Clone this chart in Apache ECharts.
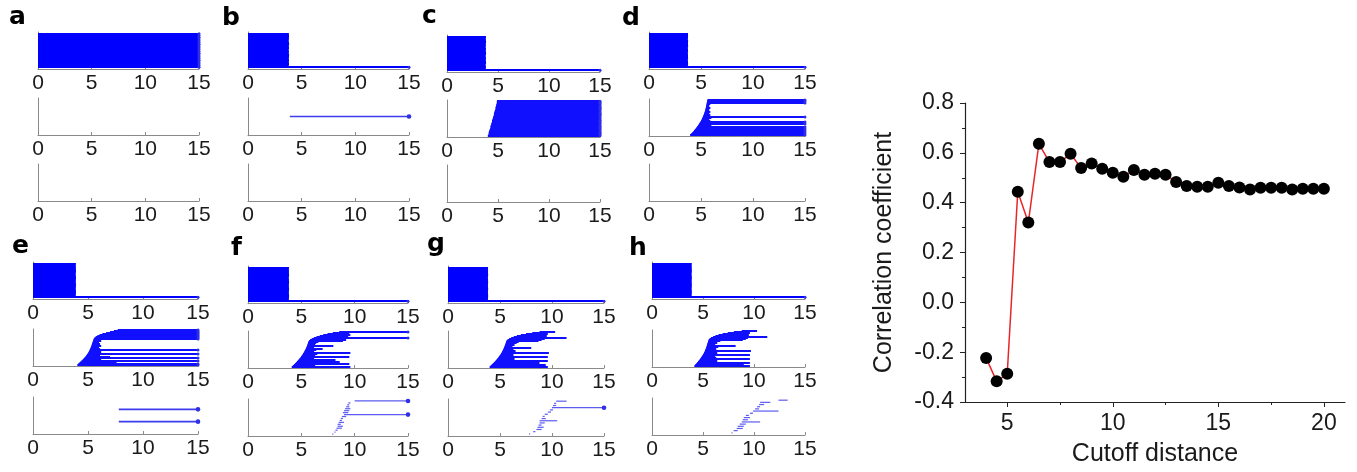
<!DOCTYPE html>
<html>
<head>
<meta charset="utf-8">
<script src="https://cdn.jsdelivr.net/npm/echarts@6/dist/echarts.min.js"></script>
<style>html,body{margin:0;padding:0;background:#fff}#chart{width:1357px;height:472px}</style>
</head>
<body>
<div id="chart"></div>
<script>
// ---------------- DATA ----------------
const barcodeTicks = [0, 5, 10, 15];

// Betti-0 (top rows): death of each bar, all born at 0; index 0 = bottom bar
const b0DeathA = [15,15,15,15,15,15,15,15,15,15,15,15,15,15,15,15,15,15,15,15];
const b0DeathB = [15,3.80,3.82,3.81,3.82,3.80,3.82,3.83,3.81,3.82,3.80,3.82,3.81,3.83,3.82,3.80,3.81,3.82,3.82,3.81];
const b0DeathC = [15,3.81,3.82,3.80,3.83,3.82,3.81,3.82,3.80,3.82,3.83,3.81,3.82,3.80,3.82,3.81,3.83,3.82,3.80,3.82];
const b0DeathD = [15,3.74,3.76,3.75,3.74,3.76,3.75,3.75,3.74,3.76,3.75,3.74,3.76,3.75,3.75,3.76,3.74,3.75,3.76,3.75];
const b0DeathE = [15,3.89,3.90,3.91,3.90,3.89,3.90,3.91,3.90,3.89,3.90,3.91,3.90,3.89,3.90,3.91,3.90,3.90,3.89,3.90];
const b0DeathF = [15,3.83,3.84,3.85,3.84,3.83,3.84,3.85,3.84,3.83,3.84,3.85,3.84,3.83,3.84,3.85,3.84,3.84,3.83,3.84];
const b0DeathG = [15,3.84,3.85,3.86,3.85,3.84,3.85,3.86,3.85,3.84,3.85,3.86,3.85,3.84,3.85,3.86,3.85,3.85,3.84,3.85];
const b0DeathH = [15,3.89,3.90,3.91,3.90,3.89,3.90,3.91,3.90,3.89,3.90,3.91,3.90,3.89,3.90,3.91,3.90,3.90,3.89,3.90];

// Betti-1 (middle rows): births and deaths, index 0 = bottom bar
const b1BirthA = [], b1DeathA = [];
const b1BirthB = [3.9], b1DeathB = [15];
const b1BirthC = [4.00,4.04,4.08,4.11,4.15,4.18,4.22,4.25,4.28,4.32,4.35,4.38,4.41,4.45,4.48,4.51,4.54,4.57,4.60,4.63,4.66,4.69,4.72,4.75,4.78,4.81,4.84,4.86,4.88,4.90];
const b1DeathC = [15,15,15,15,15,15,15,15,15,15,15,15,15,15,15,15,15,15,15,15,15,15,15,15,15,15,15,15,15,15];
const b1BirthD = [3.95,4.05,4.15,4.25,4.32,4.40,4.48,4.55,4.62,4.70,4.76,4.82,4.88,4.94,5.00,5.05,5.10,5.14,5.18,5.22,5.26,5.30,5.33,5.36,5.39,5.42,5.44,5.46,5.48,5.50,5.52,5.54,5.56,5.58,5.60,5.62];
const b1DeathD = [15,5.9,15,5.8,15,5.9,15,5.7,15,5.8,6.0,15,5.8,15,5.9,5.7,5.8,6.0,15,5.7,5.9,5.8,5.6,5.9,5.7,5.8,5.6,5.9,5.7,5.8,5.7,5.9,15,5.8,15,15];
const b1BirthE = [4.03,4.12,4.22,4.32,4.42,4.51,4.60,4.68,4.76,4.83,4.90,4.96,5.02,5.07,5.12,5.16,5.20,5.24,5.28,5.31,5.34,5.37,5.40,5.43,5.46,5.49,5.53,5.60,5.70,5.85,6.05,6.30,6.65,7.00,7.35,7.70];
const b1DeathE = [15,15,7.6,6.0,15,6.2,5.9,15,7.0,6.1,5.9,15,6.0,6.2,5.9,15,6.1,5.9,6.0,6.2,5.9,6.1,6.0,5.9,6.2,6.1,15,15,15,15,15,15,15,15,15,15];
const b1BirthF = [4.10,4.20,4.30,4.40,4.49,4.58,4.66,4.74,4.82,4.90,4.97,5.04,5.10,5.16,5.22,5.27,5.32,5.37,5.42,5.46,5.50,5.54,5.57,5.60,5.63,5.66,5.72,5.82,5.97,6.17,6.42,6.72,7.05,7.45,7.95,8.55];
const b1DeathF = [9.6,6.3,6.0,9.5,6.4,8.6,6.1,8.2,6.2,6.0,9.5,6.3,6.1,6.5,9.6,6.2,6.0,6.4,7.0,6.1,6.2,8.0,6.3,6.1,6.4,6.6,8.9,9.2,9.0,15,9.4,9.1,9.6,9.3,9.5,15];
const b1BirthG = [4.00,4.10,4.20,4.30,4.40,4.50,4.58,4.66,4.74,4.82,4.89,4.96,5.03,5.09,5.15,5.20,5.25,5.30,5.34,5.38,5.42,5.46,5.50,5.53,5.56,5.59,5.63,5.72,5.87,6.07,6.32,6.62,7.00,7.50,8.10,8.80];
const b1DeathG = [9.6,6.2,9.4,6.1,8.8,6.3,9.6,6.0,6.4,6.2,9.6,6.1,6.3,6.0,9.7,6.2,6.5,6.1,6.3,8.0,6.2,6.0,6.4,6.3,6.6,6.8,8.7,9.0,9.3,11.4,9.1,9.5,9.2,9.6,9.4,10.3];
const b1BirthH = [4.15,4.24,4.33,4.42,4.50,4.58,4.66,4.73,4.80,4.87,4.93,4.99,5.05,5.10,5.15,5.19,5.23,5.27,5.31,5.34,5.37,5.40,5.43,5.46,5.49,5.52,5.56,5.64,5.78,5.98,6.22,6.52,6.92,7.42,8.02,8.80];
const b1DeathH = [9.6,9.0,6.2,9.6,6.1,6.4,6.0,9.6,6.3,6.1,6.2,9.6,6.0,6.4,6.2,9.7,6.1,6.3,6.0,6.5,8.2,6.2,6.1,6.4,6.3,6.7,8.9,9.2,9.4,11.3,9.0,9.5,9.3,9.6,9.2,10.3];

// Betti-2 (bottom rows)
const b2BirthA = [], b2DeathA = [];
const b2BirthB = [], b2DeathB = [];
const b2BirthC = [], b2DeathC = [];
const b2BirthD = [], b2DeathD = [];
const b2BirthE = [7.8,7.8], b2DeathE = [15,15];
const b2BirthF = [7.9,8.1,8.2,8.3,8.4,8.4,8.5,8.6,8.7,8.8,9.0,8.9,9.0,9.1,9.2,9.3,9.4,10.0];
const b2DeathF = [8.0,8.2,8.4,8.8,8.9,8.7,9.0,8.8,8.9,9.2,15,9.4,9.5,9.6,9.5,9.5,9.6,15];
const b2BirthG = [7.8,8.2,8.5,8.6,8.7,8.8,8.8,9.0,9.1,9.3,9.6,9.8,10.0,10.1,10.2,10.4];
const b2DeathG = [7.9,8.4,9.0,9.2,9.0,9.3,10.5,9.4,9.3,9.6,9.9,10.1,15,10.4,10.4,11.4];
const b2BirthH = [7.8,8.0,8.3,8.4,8.6,8.8,8.9,9.0,9.2,9.6,9.9,10.1,10.3,10.5,10.6,12.4];
const b2DeathH = [7.9,8.4,8.9,9.0,9.2,10.6,9.4,9.6,9.5,9.9,12.4,10.5,10.6,11.0,11.6,13.3];

// Right plot
const cutoffs = [4,4.5,5,5.5,6,6.5,7,7.5,8,8.5,9,9.5,10,10.5,11,11.5,12,12.5,13,13.5,14,14.5,15,15.5,16,16.5,17,17.5,18,18.5,19,19.5,20];
const corr = [-0.223,-0.317,-0.287,0.444,0.320,0.636,0.563,0.563,0.596,0.539,0.557,0.536,0.520,0.504,0.531,0.512,0.516,0.512,0.483,0.467,0.464,0.464,0.480,0.467,0.461,0.453,0.460,0.460,0.460,0.453,0.456,0.456,0.456];
const rightXLabels = [5, 10, 15, 20];
const rightXMinor = [7.5, 12.5, 17.5];

// ---------------- LAYOUT ----------------
const FONT = '"Liberation Sans", Arial, sans-serif';
const SUB_H = 37;
const panels = [
  {k:'a', left:38,  width:161, tops:[32,98,164],  b0:b0DeathA, b1:[b1BirthA,b1DeathA], b2:[b2BirthA,b2DeathA], lx:9,   ly:27},
  {k:'b', left:248, width:161, tops:[32,98,164],  b0:b0DeathB, b1:[b1BirthB,b1DeathB], b2:[b2BirthB,b2DeathB], lx:222, ly:28},
  {k:'c', left:447, width:153, tops:[35,100,165], b0:b0DeathC, b1:[b1BirthC,b1DeathC], b2:[b2BirthC,b2DeathC], lx:422, ly:26},
  {k:'d', left:649, width:156, tops:[32,99,164],  b0:b0DeathD, b1:[b1BirthD,b1DeathD], b2:[b2BirthD,b2DeathD], lx:622, ly:28},
  {k:'e', left:33,  width:165, tops:[262,329,397],b0:b0DeathE, b1:[b1BirthE,b1DeathE], b2:[b2BirthE,b2DeathE], lx:12,  ly:256},
  {k:'f', left:248, width:160, tops:[266,331,399],b0:b0DeathF, b1:[b1BirthF,b1DeathF], b2:[b2BirthF,b2DeathF], lx:231, ly:258},
  {k:'g', left:448, width:156, tops:[266,331,399],b0:b0DeathG, b1:[b1BirthG,b1DeathG], b2:[b2BirthG,b2DeathG], lx:427, ly:254},
  {k:'h', left:652, width:153, tops:[262,330,398],b0:b0DeathH, b1:[b1BirthH,b1DeathH], b2:[b2BirthH,b2DeathH], lx:629, ly:258}
];

const grids = [], xAxes = [], yAxes = [], series = [], graphics = [];

function makeRenderer(row) {
  return function (params, api) {
    const i = api.value(0), b = api.value(1), d = api.value(2);
    const p0 = api.coord([b, i + 1]);
    const p1 = api.coord([d, i + 1]);
    const unit = api.size([0, 1])[1];
    const tile = row < 2 && unit <= 2.3;
    let y0, h, fill;
    if (tile) {
      const u = row === 1 ? Math.max(unit, 2) : unit;
      y0 = Math.round(p0[1] - u / 2);
      const y1 = Math.round(p0[1] + u / 2);
      h = Math.max(1, y1 - y0);
      fill = row === 1 ? '#1010ff' : '#0000ff';
    } else {
      h = row === 2 && unit <= 2.3 ? 1.2 : 1.6;
      y0 = p0[1] - h / 2;
      fill = row === 2 && unit <= 2.3 ? '#5c5cf0' : '#3d3df0';
    }
    const children = [{
      type: 'rect',
      shape: {x: p0[0], y: y0, width: Math.max(p1[0] - p0[0], 0.8), height: h},
      style: {fill: fill}
    }];
    if (d >= 15) {
      children.push({type: 'circle', shape: {cx: p1[0], cy: p1[1], r: tile ? 1.5 : 2.3}, style: {fill: '#2f2fe6'}});
    }
    return {type: 'group', children};
  };
}

function addBarcode(p, row, births, deaths) {
  const idx = grids.length;
  grids.push({left: p.left, top: p.tops[row], width: p.width, height: SUB_H});
  xAxes.push({
    gridIndex: idx, type: 'value', min: 0, max: 15, interval: 5,
    axisLine: {show: true, lineStyle: {color: '#8a8a8a', width: 1}},
    axisTick: {show: true, inside: true, length: 3, lineStyle: {color: '#8a8a8a'}},
    axisLabel: {show: true, margin: 4, color: '#1a1a1a', fontSize: 21, fontFamily: FONT},
    splitLine: {show: false}
  });
  yAxes.push({
    gridIndex: idx, type: 'value', min: 0, max: births.length + 1,
    axisLine: {show: true, lineStyle: {color: '#8a8a8a', width: 1}},
    axisTick: {show: false}, axisLabel: {show: false}, splitLine: {show: false}
  });
  series.push({
    type: 'custom', coordinateSystem: 'cartesian2d', xAxisIndex: idx, yAxisIndex: idx,
    silent: true, animation: false, renderItem: makeRenderer(row),
    data: births.map((b, i) => [i, b, deaths[i]])
  });
}

panels.forEach(p => {
  addBarcode(p, 0, p.b0.map(() => 0), p.b0);
  addBarcode(p, 1, p.b1[0], p.b1[1]);
  addBarcode(p, 2, p.b2[0], p.b2[1]);
  graphics.push({
    type: 'text', left: p.lx, top: p.ly - 22,
    style: {text: p.k, font: 'bold 25px "DejaVu Sans", sans-serif', fill: '#000'}
  });
});

// Right chart
const rIdx = grids.length;
grids.push({left: 965, top: 103, width: 380, height: 300});
xAxes.push({
  gridIndex: rIdx, type: 'value', min: 3, max: 21, position: 'bottom',
  name: 'Cutoff distance', nameLocation: 'middle', nameGap: 40,
  nameTextStyle: {fontSize: 25, color: '#1a1a1a', fontFamily: FONT},
  axisLine: {show: true, onZero: false, lineStyle: {color: '#222', width: 1.2}},
  axisTick: {show: true, inside: false, length: 5, customValues: rightXLabels, lineStyle: {color: '#222'}},
  axisLabel: {show: true, margin: 10, customValues: rightXLabels, color: '#1a1a1a', fontSize: 23, fontFamily: FONT},
  splitLine: {show: false}
});
xAxes.push({
  gridIndex: rIdx, type: 'value', min: 3, max: 21, position: 'bottom',
  axisLine: {show: false, onZero: false},
  axisTick: {show: true, inside: false, length: 3, customValues: rightXMinor, lineStyle: {color: '#222'}},
  axisLabel: {show: false}, splitLine: {show: false}
});
yAxes.push({
  gridIndex: rIdx, type: 'value', min: -0.4, max: 0.8, interval: 0.2,
  name: 'Correlation coefficient', nameLocation: 'middle', nameGap: 68, nameRotate: 90,
  nameTextStyle: {fontSize: 25, color: '#1a1a1a', fontFamily: FONT},
  axisLine: {show: true, onZero: false, lineStyle: {color: '#222', width: 1.2}},
  axisTick: {show: true, inside: false, length: 5, lineStyle: {color: '#222'}},
  minorTick: {show: true, splitNumber: 2, length: 3, lineStyle: {color: '#222'}},
  axisLabel: {show: true, margin: 11, color: '#1a1a1a', fontSize: 23, fontFamily: FONT,
    formatter: v => v.toFixed(1)},
  splitLine: {show: false}
});
series.push({
  type: 'line', xAxisIndex: rIdx, yAxisIndex: rIdx,
  data: cutoffs.map((c, i) => [c, corr[i]]),
  symbol: 'circle', symbolSize: 12,
  itemStyle: {color: '#000'},
  lineStyle: {color: '#e8262a', width: 1.5},
  animation: false, silent: true
});

const chart = echarts.init(document.getElementById('chart'), null, {renderer: 'canvas'});
chart.setOption({
  backgroundColor: '#fff',
  animation: false,
  grid: grids, xAxis: xAxes, yAxis: yAxes, series: series,
  graphic: graphics
});
</script>
</body>
</html>
